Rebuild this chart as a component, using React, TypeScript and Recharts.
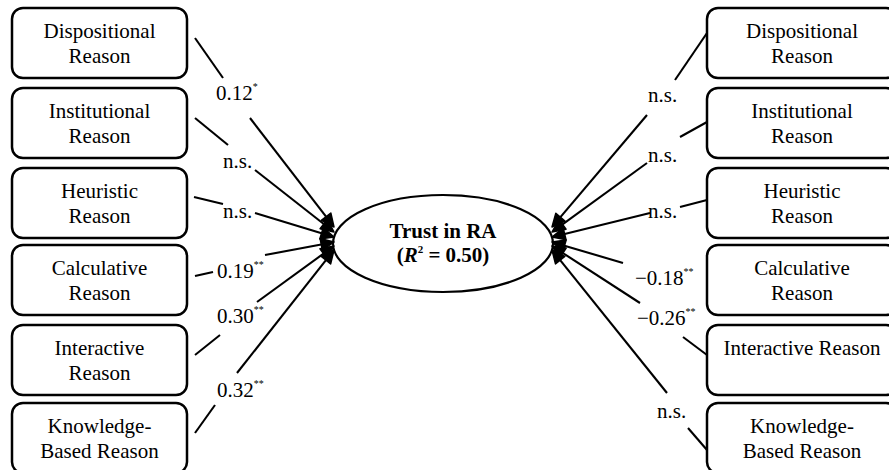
import React from 'react';
import { ComposedChart, XAxis, YAxis, ReferenceArea, ReferenceLine, Scatter } from 'recharts';

// ---------- content ----------
const leftFactors: string[][] = [
  ['Dispositional', 'Reason'],
  ['Institutional', 'Reason'],
  ['Heuristic', 'Reason'],
  ['Calculative', 'Reason'],
  ['Interactive', 'Reason'],
  ['Knowledge-', 'Based Reason'],
];
const leftCoefs = ['0.12', 'n.s.', 'n.s.', '0.19', '0.30', '0.32'];
const leftSig = ['*', '', '', '**', '**', '**'];

const rightFactors: string[][] = [
  ['Dispositional', 'Reason'],
  ['Institutional', 'Reason'],
  ['Heuristic', 'Reason'],
  ['Calculative', 'Reason'],
  ['Interactive Reason'],
  ['Knowledge-', 'Based Reason'],
];
const rightCoefs = ['n.s.', 'n.s.', 'n.s.', '\u22120.18', '\u22120.26', 'n.s.'];
const rightSig = ['', '', '', '**', '**', ''];

const outcomeTitle = 'Trust in RA';
const rSquared = '0.50';

// ---------- layout (diagram coordinates) ----------
const W = 889;
const H = 470;
const boxTops = [8, 88, 168, 245, 325, 403];
const BOX_H = 70;
const leftBoxX = [12, 187];
const rightBoxX = [707, 897];
const ellipseBox = { x1: 333, x2: 553, y1: 195, y2: 292 };

const leftLabelPos = [[216, 100], [223, 168], [223, 218], [217, 278], [217, 323], [217, 397]];
const rightLabelPos = [[648, 102], [648, 162], [648, 218], [635, 285], [637, 325], [657, 418]];

// box -> label segments (no arrow)
const leftSeg1 = [[195, 38, 223, 78], [195, 118, 228, 145], [194, 197, 223, 204], [195, 276, 213, 272], [195, 355, 220, 335], [195, 433, 215, 405]];
const rightSeg1: (number[] | null)[] = [[707, 33, 675, 80], [707, 122, 680, 137], [707, 200, 680, 207], null, [707, 355, 683, 337], [707, 450, 688, 428]];
// label -> outcome segments (arrow)
const leftSeg2 = [[250, 118, 334, 227], [255, 170, 334, 232], [255, 213, 334, 237], [265, 255, 334, 242], [257, 302, 334, 246], [237, 373, 334, 250]];
const rightSeg2 = [[647, 115, 552, 227], [647, 163, 552, 232], [650, 213, 552, 237], [623, 263, 552, 242], [640, 303, 552, 246], [667, 393, 552, 250]];

const FONT = "'Liberation Serif', 'Times New Roman', serif";

const labelPoints = [
  ...leftCoefs.map((c, i) => ({ x: leftLabelPos[i][0], y: leftLabelPos[i][1], coef: c, sig: leftSig[i] })),
  ...rightCoefs.map((c, i) => ({ x: rightLabelPos[i][0], y: rightLabelPos[i][1], coef: c, sig: rightSig[i] })),
];

const PlainLine = (p: any) => (
  <line x1={p.x1} y1={p.y1} x2={p.x2} y2={p.y2} stroke="#000" strokeWidth={2.1} />
);

const ArrowLine = (p: any) => {
  const { x1, y1, x2, y2 } = p;
  const dx = x2 - x1;
  const dy = y2 - y1;
  const len = Math.hypot(dx, dy) || 1;
  const ux = dx / len;
  const uy = dy / len;
  const L = 13;
  const hw = 6;
  const bx = x2 - ux * L;
  const by = y2 - uy * L;
  const pts = `${x2},${y2} ${bx - uy * hw},${by + ux * hw} ${bx + uy * hw},${by - ux * hw}`;
  return (
    <g>
      <line x1={x1} y1={y1} x2={bx} y2={by} stroke="#000" strokeWidth={2.1} />
      <polygon points={pts} fill="#000" stroke="#000" strokeWidth={1.5} strokeLinejoin="round" />
    </g>
  );
};

const makeBoxShape = (lines: string[]) => (p: any) => {
  const cx = p.x + p.width / 2;
  return (
    <g>
      <rect x={p.x} y={p.y} width={p.width} height={p.height} rx={11} ry={11} fill="#fff" stroke="#000" strokeWidth={2.5} />
      {lines.map((t, k) => (
        <text key={k} x={cx} y={p.y + 30 + k * 25} textAnchor="middle" fontFamily={FONT} fontSize={21} fill="#000">
          {t}
        </text>
      ))}
    </g>
  );
};

const EllipseShape = (p: any) => {
  const cx = p.x + p.width / 2;
  const cy = p.y + p.height / 2;
  return (
    <g>
      <ellipse cx={cx} cy={cy} rx={p.width / 2} ry={p.height / 2} fill="#fff" stroke="#000" strokeWidth={2.2} />
      <text x={cx} y={cy - 6} textAnchor="middle" fontFamily={FONT} fontSize={21} fontWeight="bold" fill="#000">
        {outcomeTitle}
      </text>
      <text x={cx} y={cy + 18} textAnchor="middle" fontFamily={FONT} fontSize={21} fontWeight="bold" fill="#000">
        (<tspan fontStyle="italic">R</tspan>
        <tspan fontSize={11} dy={-9}>2</tspan>
        <tspan dy={9}> = {rSquared})</tspan>
      </text>
    </g>
  );
};

const CoefLabel = (p: any) => {
  const { cx, cy, payload } = p;
  return (
    <text x={cx} y={cy} fontFamily={FONT} fontSize={21} fill="#000">
      {payload.coef}
      {payload.sig ? (
        <tspan fontSize={10} dy={-10}>
          {payload.sig}
        </tspan>
      ) : null}
    </text>
  );
};

export default function App() {
  return (
    <div style={{ position: 'absolute', left: 0, top: 0, width: W, height: H, background: '#fff' }}>
      <ComposedChart width={W} height={H} data={labelPoints} margin={{ top: 0, right: 0, bottom: 0, left: 0 }}>
        <XAxis type="number" dataKey="x" domain={[0, W]} hide allowDataOverflow />
        <YAxis type="number" dataKey="y" domain={[0, H]} reversed hide allowDataOverflow />

        {leftSeg1.map((s, i) => (
          <ReferenceLine key={`l1-${i}`} segment={[{ x: s[0], y: s[1] }, { x: s[2], y: s[3] }]} shape={PlainLine} ifOverflow="visible" />
        ))}
        {leftSeg2.map((s, i) => (
          <ReferenceLine key={`l2-${i}`} segment={[{ x: s[0], y: s[1] }, { x: s[2], y: s[3] }]} shape={ArrowLine} ifOverflow="visible" />
        ))}
        {rightSeg1.map((s, i) =>
          s ? (
            <ReferenceLine key={`r1-${i}`} segment={[{ x: s[0], y: s[1] }, { x: s[2], y: s[3] }]} shape={PlainLine} ifOverflow="visible" />
          ) : null
        )}
        {rightSeg2.map((s, i) => (
          <ReferenceLine key={`r2-${i}`} segment={[{ x: s[0], y: s[1] }, { x: s[2], y: s[3] }]} shape={ArrowLine} ifOverflow="visible" />
        ))}

        {leftFactors.map((lines, i) => (
          <ReferenceArea
            key={`lb-${i}`}
            x1={leftBoxX[0]}
            x2={leftBoxX[1]}
            y1={boxTops[i]}
            y2={boxTops[i] + BOX_H}
            ifOverflow="visible"
            shape={makeBoxShape(lines)}
          />
        ))}
        {rightFactors.map((lines, i) => (
          <ReferenceArea
            key={`rb-${i}`}
            x1={rightBoxX[0]}
            x2={rightBoxX[1]}
            y1={boxTops[i]}
            y2={boxTops[i] + BOX_H}
            ifOverflow="visible"
            shape={makeBoxShape(lines)}
          />
        ))}

        <ReferenceArea
          x1={ellipseBox.x1}
          x2={ellipseBox.x2}
          y1={ellipseBox.y1}
          y2={ellipseBox.y2}
          ifOverflow="visible"
          shape={EllipseShape}
        />

        <Scatter dataKey="y" data={labelPoints} shape={CoefLabel} isAnimationActive={false} />
      </ComposedChart>
    </div>
  );
}
